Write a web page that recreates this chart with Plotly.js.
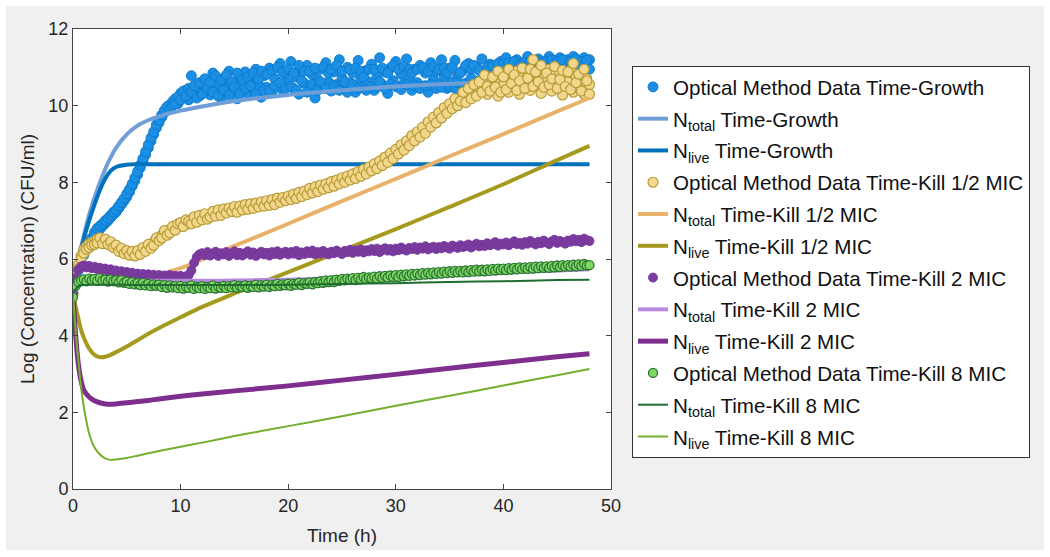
<!DOCTYPE html>
<html><head><meta charset="utf-8">
<script src="https://cdn.plot.ly/plotly-3.0.1.min.js"></script>
<style>html,body{margin:0;padding:0;background:#fff}</style>
</head><body><div id="chart" style="width:1050px;height:557px"></div>
<script>
// Measurement times of the optical method (h)
const dataTime = [
0,0.25,0.5,0.75,1,1.25,1.5,1.75,
2,2.25,2.5,2.75,3,3.25,3.5,3.75,
4,4.25,4.5,4.75,5,5.25,5.5,5.75,
6,6.25,6.5,6.75,7,7.25,7.5,7.75,
8,8.25,8.5,8.75,9,9.25,9.5,9.75,
10,10.25,10.5,10.75,11,11.25,11.5,11.75,
12,12.25,12.5,12.75,13,13.25,13.5,13.75,
14,14.25,14.5,14.75,15,15.25,15.5,15.75,
16,16.25,16.5,16.75,17,17.25,17.5,17.75,
18,18.25,18.5,18.75,19,19.25,19.5,19.75,
20,20.25,20.5,20.75,21,21.25,21.5,21.75,
22,22.25,22.5,22.75,23,23.25,23.5,23.75,
24,24.25,24.5,24.75,25,25.25,25.5,25.75,
26,26.25,26.5,26.75,27,27.25,27.5,27.75,
28,28.25,28.5,28.75,29,29.25,29.5,29.75,
30,30.25,30.5,30.75,31,31.25,31.5,31.75,
32,32.25,32.5,32.75,33,33.25,33.5,33.75,
34,34.25,34.5,34.75,35,35.25,35.5,35.75,
36,36.25,36.5,36.75,37,37.25,37.5,37.75,
38,38.25,38.5,38.75,39,39.25,39.5,39.75,
40,40.25,40.5,40.75,41,41.25,41.5,41.75,
42,42.25,42.5,42.75,43,43.25,43.5,43.75,
44,44.25,44.5,44.75,45,45.25,45.5,45.75,
46,46.25,46.5,46.75,47,47.25,47.5,47.75,
48];

// Time-Growth optical data (two readings per time)
const growthData = [
5.10,5.45,5.70,5.92,6.10,6.28,6.42,6.55,
6.62,6.72,6.78,6.86,6.93,7.00,7.08,7.16,
7.22,7.32,7.42,7.52,7.62,7.75,7.90,8.04,
8.20,8.38,8.55,8.72,8.90,9.08,9.25,9.42,
9.56,9.70,9.82,9.92,10.02,10.10,10.18,10.05,
10.32,10.22,10.40,10.15,10.78,10.30,10.48,10.25,
10.55,10.36,10.62,10.28,10.85,10.40,10.58,10.20,
10.70,10.45,10.90,10.35,10.60,10.18,10.75,10.50,
10.88,10.30,10.65,10.42,10.95,10.55,10.22,10.78,
10.48,10.98,10.35,10.70,10.52,11.10,10.40,10.82,
10.60,11.15,10.45,10.75,10.30,10.92,10.58,11.05,
10.42,10.80,10.20,10.68,10.95,10.50,11.12,10.62,
10.38,10.88,10.55,11.20,10.72,10.45,11.00,10.60,
10.85,10.35,11.18,10.70,10.50,10.92,10.62,11.08,
10.40,10.78,11.25,10.55,10.88,10.32,10.98,10.65,
11.15,10.48,10.82,10.58,11.22,10.70,10.40,10.95,
10.60,11.05,10.50,10.85,10.35,11.12,10.68,10.90,
10.55,11.20,10.75,10.45,10.98,10.62,11.18,10.80,
10.30,10.92,10.58,11.10,10.72,10.48,11.02,10.65,
11.22,10.85,10.55,11.08,10.70,10.95,10.62,11.15,
10.80,11.25,10.68,11.00,10.88,11.20,10.75,11.10,
10.92,11.28,10.85,11.05,10.95,11.22,10.98,11.15,
11.05,11.28,10.95,11.18,11.02,11.25,10.92,11.12,
11.20,10.98,11.28,11.05,11.18,10.95,11.25,11.10,
11.20];
const growthData2 = [
null,null,null,null,null,null,null,null,
6.70,6.80,6.86,6.92,7.00,7.06,7.14,7.22,
7.28,7.38,7.48,7.58,7.70,7.82,7.96,8.12,
8.28,8.45,8.62,8.80,8.98,9.16,9.32,9.50,
9.62,9.76,9.88,9.98,9.90,10.00,10.05,10.22,
10.15,10.38,10.25,10.45,10.35,10.52,10.20,10.60,
10.30,10.70,10.45,10.62,10.35,10.78,10.25,10.66,
10.40,10.80,10.28,10.62,10.48,10.85,10.32,10.68,
10.45,10.75,10.52,10.85,10.30,10.70,10.90,10.40,
10.82,10.40,10.92,10.50,11.00,10.60,10.88,10.45,
10.95,10.50,10.85,10.40,11.05,10.65,10.90,10.35,
10.90,10.55,10.98,10.40,10.62,11.00,10.45,10.85,
10.95,10.50,11.05,10.40,10.90,10.62,10.35,10.95,
10.55,10.98,10.45,10.90,10.75,10.40,10.95,10.50,
10.95,10.50,10.62,10.98,10.45,10.85,10.55,11.05,
10.50,10.95,10.42,11.02,10.55,10.95,10.85,10.52,
10.95,10.45,11.00,10.52,10.90,10.55,11.02,10.45,
10.95,10.48,10.98,10.85,10.50,11.00,10.45,10.60,
10.85,10.55,11.05,10.45,10.95,11.05,10.55,10.92,
10.58,10.50,11.00,10.62,11.05,10.55,11.10,10.72,
11.08,10.60,11.12,10.75,11.15,10.70,11.05,10.85,
11.12,10.80,11.15,10.90,11.18,10.85,11.08,10.92,
11.15,10.98,11.20,10.92,11.15,11.00,11.20,10.95,
11.02,11.15,10.95,11.22,10.92,11.15,11.02,11.18,
10.95];

// Time-Kill 1/2 MIC optical data (two readings per time)
const halfMicData = [
5.10,5.50,5.85,6.08,6.25,6.33,6.40,6.44,
6.47,6.52,6.45,6.50,6.42,6.46,6.38,6.35,
6.30,6.26,6.20,6.22,6.15,6.18,6.12,6.16,
6.15,6.20,6.22,6.28,6.30,6.38,6.44,6.48,
6.55,6.62,6.66,6.70,6.76,6.78,6.83,6.85,
6.88,6.93,6.95,6.92,7.00,7.03,7.02,7.08,
7.08,7.12,7.10,7.18,7.16,7.20,7.22,7.19,
7.24,7.27,7.25,7.30,7.30,7.28,7.33,7.36,
7.35,7.38,7.36,7.42,7.40,7.43,7.41,7.46,
7.45,7.48,7.50,7.47,7.52,7.56,7.54,7.58,
7.58,7.62,7.64,7.61,7.68,7.72,7.70,7.75,
7.78,7.80,7.83,7.82,7.87,7.90,7.88,7.94,
7.95,7.99,8.00,8.03,8.05,8.09,8.10,8.12,
8.15,8.19,8.20,8.24,8.27,8.32,8.34,8.38,
8.42,8.46,8.50,8.56,8.60,8.66,8.70,8.76,
8.80,8.88,8.92,8.98,9.02,9.10,9.14,9.20,
9.25,9.33,9.36,9.45,9.50,9.56,9.62,9.70,
9.75,9.82,9.85,9.95,9.98,10.08,10.02,10.15,
10.20,10.12,10.30,10.22,10.40,10.28,10.48,10.35,
10.45,10.70,10.30,10.55,10.40,10.68,10.25,10.58,
10.55,10.82,10.35,10.62,10.48,10.90,10.30,10.72,
10.60,10.85,10.40,11.20,10.55,10.78,10.32,10.70,
10.62,10.95,10.38,10.80,10.50,10.88,10.28,10.75,
10.62,10.92,10.35,10.78,10.45,10.85,10.30,10.70,
10.55];
const halfMicData2 = [
null,null,5.75,6.00,6.15,6.25,6.30,6.36,
6.38,6.42,6.55,6.40,6.52,6.38,6.45,6.30,
6.36,6.20,6.28,6.14,6.22,6.10,6.20,6.08,
6.22,6.12,6.30,6.20,6.38,6.28,6.36,6.55,
6.48,6.55,6.74,6.62,6.68,6.85,6.75,6.92,
6.95,6.85,7.02,6.98,6.92,7.10,6.96,7.14,
7.02,7.18,7.04,7.10,7.24,7.12,7.28,7.14,
7.30,7.20,7.33,7.24,7.37,7.22,7.38,7.28,
7.42,7.30,7.44,7.32,7.46,7.36,7.49,7.38,
7.52,7.40,7.55,7.42,7.59,7.48,7.60,7.52,
7.64,7.55,7.69,7.58,7.74,7.63,7.77,7.68,
7.84,7.72,7.88,7.76,7.93,7.82,7.96,7.86,
8.02,7.90,8.06,7.96,8.12,8.00,8.16,8.06,
8.22,8.10,8.28,8.16,8.34,8.22,8.40,8.30,
8.48,8.36,8.56,8.44,8.66,8.52,8.76,8.62,
8.86,8.74,8.98,8.84,9.08,8.96,9.22,9.08,
9.32,9.18,9.44,9.28,9.58,9.44,9.70,9.55,
9.82,9.68,9.95,9.80,10.05,9.92,10.18,10.00,
10.12,10.35,10.08,10.45,10.18,10.55,10.25,10.62,
10.35,10.80,10.50,10.38,10.75,10.48,10.90,10.35,
10.75,10.42,10.95,10.58,10.80,10.40,10.65,10.98,
10.45,10.72,10.95,10.50,10.88,10.62,11.05,10.48,
10.85,10.55,10.70,11.02,10.45,10.68,10.92,10.50,
10.88,10.42,11.10,10.60,10.82,10.38,10.95,10.65,
10.30];

const twoMicData = [
5.10,5.50,5.72,5.80,5.83,5.78,5.82,5.76,
5.80,5.74,5.77,5.71,5.75,5.69,5.73,5.68,
5.70,5.64,5.68,5.62,5.66,5.60,5.64,5.59,
5.62,5.57,5.61,5.56,5.60,5.55,5.59,5.54,
5.58,5.53,5.57,5.52,5.58,5.53,5.56,5.52,
5.56,5.52,5.55,5.58,5.70,5.90,6.05,6.12,
6.15,6.10,6.18,6.09,6.14,6.19,6.08,6.15,
6.12,6.18,6.08,6.14,6.20,6.10,6.16,6.09,
6.15,6.20,6.11,6.17,6.08,6.14,6.19,6.12,
6.16,6.09,6.18,6.13,6.20,6.11,6.15,6.19,
6.12,6.18,6.14,6.21,6.10,6.17,6.13,6.20,
6.15,6.22,6.12,6.18,6.14,6.21,6.16,6.12,
6.19,6.15,6.22,6.17,6.13,6.21,6.18,6.24,
6.16,6.22,6.19,6.25,6.17,6.23,6.20,6.26,
6.21,6.27,6.18,6.24,6.28,6.22,6.26,6.20,
6.27,6.23,6.30,6.25,6.22,6.29,6.26,6.31,
6.24,6.30,6.27,6.33,6.25,6.29,6.32,6.26,
6.31,6.28,6.34,6.30,6.27,6.35,6.32,6.29,
6.36,6.31,6.34,6.38,6.30,6.35,6.40,6.33,
6.37,6.34,6.41,6.36,6.39,6.44,6.35,6.40,
6.38,6.43,6.36,6.41,6.46,6.39,6.42,6.37,
6.44,6.40,6.47,6.42,6.38,6.45,6.41,6.48,
6.43,6.39,6.46,6.50,6.42,6.47,6.44,6.40,
6.48,6.45,6.52,6.46,6.50,6.44,6.53,6.49,
6.47];

const eightMicData = [
5.00,5.30,5.40,5.44,5.47,5.42,5.49,5.45,
5.48,5.43,5.50,5.44,5.46,5.41,5.47,5.42,
5.44,5.39,5.45,5.38,5.41,5.35,5.40,5.34,
5.37,5.32,5.38,5.31,5.35,5.29,5.34,5.30,
5.33,5.27,5.32,5.25,5.31,5.26,5.29,5.24,
5.30,5.23,5.28,5.25,5.31,5.22,5.27,5.24,
5.29,5.22,5.27,5.24,5.31,5.23,5.28,5.25,
5.30,5.24,5.29,5.26,5.32,5.25,5.30,5.27,
5.31,5.25,5.30,5.27,5.33,5.26,5.31,5.28,
5.33,5.27,5.32,5.29,5.35,5.30,5.34,5.31,
5.36,5.30,5.35,5.33,5.38,5.32,5.37,5.35,
5.39,5.34,5.40,5.37,5.42,5.38,5.44,5.40,
5.45,5.40,5.46,5.43,5.48,5.44,5.49,5.46,
5.50,5.45,5.51,5.47,5.53,5.48,5.52,5.50,
5.54,5.49,5.55,5.51,5.56,5.52,5.57,5.53,
5.58,5.53,5.59,5.55,5.60,5.56,5.61,5.57,
5.62,5.58,5.63,5.59,5.64,5.60,5.65,5.61,
5.66,5.62,5.67,5.63,5.68,5.64,5.69,5.65,
5.69,5.65,5.70,5.66,5.71,5.67,5.72,5.68,
5.72,5.68,5.73,5.69,5.74,5.70,5.75,5.71,
5.75,5.71,5.76,5.72,5.77,5.73,5.78,5.74,
5.78,5.74,5.79,5.75,5.80,5.76,5.81,5.77,
5.81,5.77,5.82,5.78,5.83,5.79,5.84,5.80,
5.84,5.80,5.85,5.81,5.86,5.82,5.87,5.83,
5.84];

// Model curves (h)
const modelTime = [0,0.25,0.5,0.75,1,1.5,2,2.5,3,3.5,4,5,6,7,8,10,12,15,20,25,30,35,40,45,48];
const growthTotal = [5.1,5.5,5.95,6.3,6.6,7.15,7.6,8.0,8.35,8.65,8.9,9.25,9.48,9.62,9.72,9.87,9.98,10.12,10.28,10.4,10.5,10.57,10.63,10.68,10.7];
const growthLive  = [5.1,5.45,5.85,6.22,6.52,7.0,7.42,7.8,8.1,8.3,8.4,8.46,8.47,8.47,8.47,8.47,8.47,8.47,8.47,8.47,8.47,8.47,8.47,8.47,8.47];
const halfMicTotal = [5.1,5.3,5.4,5.45,5.47,5.48,5.48,5.48,5.48,5.48,5.48,5.5,5.52,5.55,5.6,5.76,5.99,6.34,6.92,7.51,8.09,8.68,9.26,9.85,10.2];
const halfMicLive  = [5.1,4.75,4.45,4.15,3.95,3.66,3.5,3.44,3.45,3.5,3.57,3.72,3.88,4.05,4.2,4.48,4.75,5.1,5.66,6.22,6.78,7.36,7.95,8.58,8.95];
const twoMicTotal = [5.1,5.3,5.38,5.42,5.43,5.44,5.44,5.44,5.44,5.44,5.44,5.43,5.43,5.43,5.43,5.43,5.43,5.44,5.46,5.5,5.55,5.6,5.65,5.7,5.73];
const twoMicLive  = [5.1,4.0,3.25,2.82,2.58,2.4,2.3,2.25,2.22,2.21,2.22,2.25,2.28,2.31,2.35,2.42,2.48,2.56,2.69,2.84,2.99,3.15,3.3,3.45,3.53];
const eightMicTotal = [5.1,5.22,5.28,5.31,5.32,5.33,5.33,5.33,5.33,5.33,5.33,5.33,5.32,5.32,5.32,5.32,5.32,5.32,5.33,5.35,5.37,5.4,5.42,5.45,5.46];
const eightMicLive  = [5.1,4.1,3.35,2.65,2.15,1.45,1.08,0.9,0.8,0.76,0.77,0.81,0.87,0.93,0.99,1.1,1.21,1.38,1.64,1.9,2.17,2.43,2.7,2.97,3.13];

const xTicks = [0,10,20,30,40,50];
const yTicks = [0,2,4,6,8,10,12];

const FONT = 'Liberation Sans, Arial, Helvetica, sans-serif';

function dots(y, name, fill, edge, size, edgeW, show) {
  return {x: dataTime, y: y, name: name, type: 'scatter', mode: 'markers',
    marker: {size: size, color: fill, line: {color: edge, width: edgeW}},
    legendgroup: name, showlegend: show !== false};
}
function curve(y, name, color, width) {
  return {x: modelTime, y: y, name: name, type: 'scatter', mode: 'lines',
    line: {color: color, width: width, shape: 'spline', smoothing: 0.8}, legendgroup: name};
}

const nGrowth = 'Optical Method Data Time-Growth';
const nHalf = 'Optical Method Data Time-Kill 1/2 MIC';
const traces = [
  dots(growthData, nGrowth, '#1a8fe3', '#0c78cc', 10, 0.9),
  dots(growthData2, nGrowth, '#1a8fe3', '#0c78cc', 10, 0.9, false),
  curve(growthTotal, 'N<sub>total</sub> Time-Growth', '#6f9fd6', 4),
  curve(growthLive, 'N<sub>live</sub> Time-Growth', '#0072BD', 4),
  dots(halfMicData, nHalf, '#f2d68c', '#b89c38', 10, 1.2),
  dots(halfMicData2, nHalf, '#f2d68c', '#b89c38', 10, 1.2, false),
  curve(halfMicTotal, 'N<sub>total</sub> Time-Kill 1/2 MIC', '#e9b26a', 4),
  curve(halfMicLive, 'N<sub>live</sub> Time-Kill 1/2 MIC', '#a69a1e', 4),
  dots(twoMicData, 'Optical Method Data Time-Kill 2 MIC', '#7b3c9c', '#7436a0', 9, 0.9),
  curve(twoMicTotal, 'N<sub>total</sub> Time-Kill 2 MIC', '#b88ade', 4),
  curve(twoMicLive, 'N<sub>live</sub> Time-Kill 2 MIC', '#7E2F8E', 5),
  dots(eightMicData, 'Optical Method Data Time-Kill 8 MIC', '#7fd862', '#2d7535', 9, 1.3),
  curve(eightMicTotal, 'N<sub>total</sub> Time-Kill 8 MIC', '#1f6e30', 2),
  curve(eightMicLive, 'N<sub>live</sub> Time-Kill 8 MIC', '#72b02e', 2)
];

const axisCommon = {
  showline: true, linecolor: '#444', linewidth: 1, mirror: 'ticks',
  ticks: 'inside', ticklen: 5, tickcolor: '#444', tickwidth: 1,
  showgrid: false, zeroline: false,
  tickfont: {family: FONT, size: 18, color: '#262626'}
};

const W = 538, H = 460, L = 73, T = 29;
const layout = {
  width: 1050, height: 557,
  margin: {l: L, r: 1050 - L - W, t: T, b: 557 - T - H, pad: 0},
  paper_bgcolor: '#ffffff', plot_bgcolor: '#ffffff',
  font: {family: FONT, color: '#262626'},
  showlegend: true,
  xaxis: Object.assign({}, axisCommon, {range: [0, 50], tickvals: xTicks, ticktext: xTicks.map(String),
    title: {text: 'Time (h)', font: {family: FONT, size: 19, color: '#262626'}, standoff: 14}}),
  yaxis: Object.assign({}, axisCommon, {range: [0, 12], tickvals: yTicks, ticktext: yTicks.map(String),
    title: {text: 'Log (Concentration) (CFU/ml)', font: {family: FONT, size: 19, color: '#262626'}, standoff: 8}}),
  legend: {
    x: (632 - L) / W, y: (489 - 66) / H, xanchor: 'left', yanchor: 'top',
    bgcolor: '#ffffff', bordercolor: '#333', borderwidth: 1,
    font: {family: FONT, size: 20.6, color: '#111'},
    tracegroupgap: 2, traceorder: 'grouped'
  },
  shapes: [
    {type: 'rect', layer: 'below', xref: 'paper', yref: 'paper',
     x0: (6 - L) / W, x1: (1044 - L) / W, y0: (489 - 550) / H, y1: (489 - 6) / H,
     fillcolor: '#f0f0f0', line: {width: 0}},
    {type: 'rect', layer: 'below', xref: 'paper', yref: 'paper',
     x0: 0, x1: 1, y0: 0, y1: 1, fillcolor: '#ffffff', line: {width: 0}}
  ]
};

Plotly.newPlot('chart', traces, layout, {staticPlot: true, displayModeBar: false});
</script></body></html>
